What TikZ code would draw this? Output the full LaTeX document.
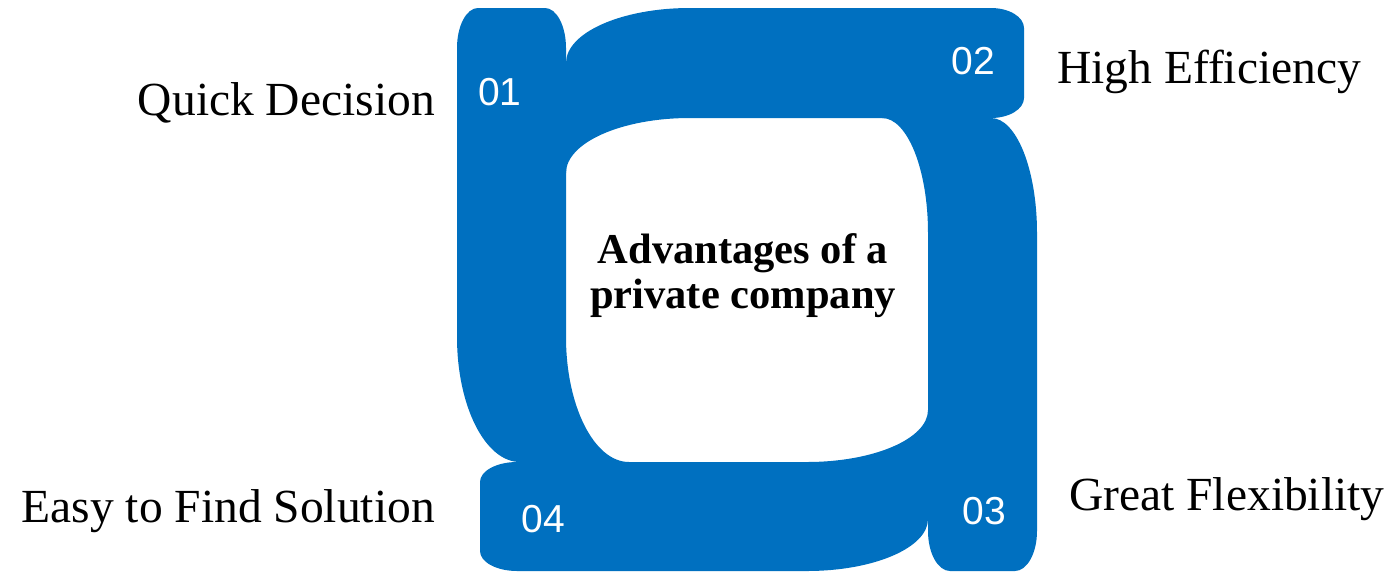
\documentclass[tikz,border=0pt]{standalone}
\usepackage{fontspec}
\setmainfont{Liberation Serif}
\newfontfamily\numfont{Liberation Sans}
\definecolor{barblue}{RGB}{0,112,192}
\begin{document}
\begin{tikzpicture}[x=1pt, y=-1pt,
    bar/.style={fill=barblue, draw=none},
    num/.style={inner sep=0pt, text=white, font=\numfont\fontsize{39}{39}\selectfont},
    lbl/.style={inner sep=0pt, font=\fontsize{47.5}{50}\selectfont}]
    \useasboundingbox (0,0) rectangle (1392,571);
    % bar 01, left
    \fill[bar] (457,337) -- (457,48) arc[start angle=180, end angle=270, x radius=21, y radius=40]
        -- (545,8) arc[start angle=270, end angle=360, x radius=21, y radius=40]
        -- (566,337) arc[start angle=180, end angle=90, x radius=63, y radius=125]
        -- (520,462) arc[start angle=90, end angle=180, x radius=63, y radius=125] -- cycle;
    % bar 02, top
    \fill[bar] (566,63) arc[start angle=180, end angle=270, x radius=124, y radius=55]
        -- (991,8) arc[start angle=270, end angle=360, x radius=33, y radius=20]
        -- (1024,98) arc[start angle=0, end angle=90, x radius=33, y radius=20]
        -- (690,118) arc[start angle=270, end angle=180, x radius=124, y radius=55] -- cycle;
    % bar 03, right
    \fill[bar] (991,118) arc[start angle=270, end angle=360, x radius=46, y radius=115]
        -- (1037,531) arc[start angle=0, end angle=90, x radius=22, y radius=40]
        -- (950,571) arc[start angle=90, end angle=180, x radius=22, y radius=40]
        -- (928,233) arc[start angle=0, end angle=-90, x radius=46, y radius=115] -- cycle;
    % bar 04, bottom
    \fill[bar] (517,462) -- (807,462) arc[start angle=90, end angle=0, x radius=121, y radius=52]
        -- (928,519) arc[start angle=0, end angle=90, x radius=121, y radius=52]
        -- (517,571) arc[start angle=90, end angle=180, x radius=37, y radius=20]
        -- (480,482) arc[start angle=180, end angle=270, x radius=37, y radius=20] -- cycle;
    % numbers
    \node[num] (n1) at (500,92) {01};
    \node[num] (n2) at (973,61) {02};
    \node[num] (n3) at (984,511) {03};
    \node[num] (n4) at (543,519) {04};
    % labels
    \node[lbl, anchor=base east] (quick) at (435,115) {Quick Decision};
    \node[lbl, anchor=base west] (high) at (1057,83) {High Efficiency};
    \node[lbl, anchor=base west] (great) at (1069,510) {Great Flexibility};
    \node[lbl, anchor=base east] (easy) at (435,522) {Easy to Find Solution};
    \node[inner sep=0pt, align=center, font=\bfseries\fontsize{42.5}{45}\selectfont] (title) at (743,276)
        {Advantages of a\\private company};
\end{tikzpicture}
\end{document}
